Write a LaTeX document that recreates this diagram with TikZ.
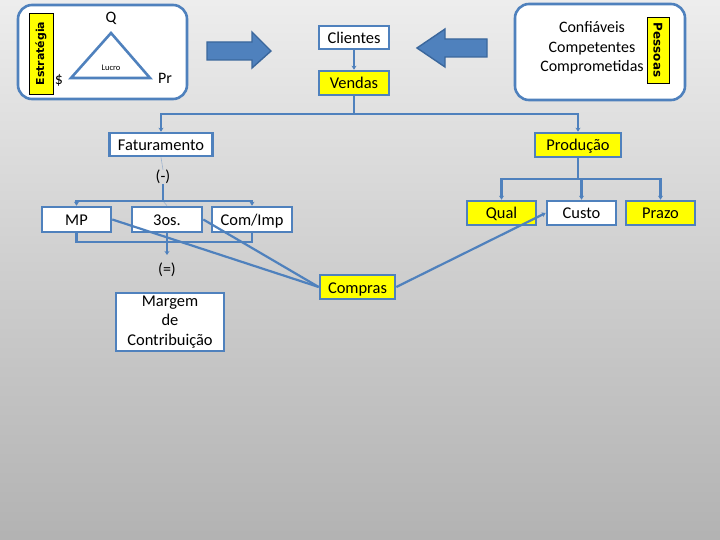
\documentclass[tikz,border=0pt]{standalone}
\usepackage{fontspec}
\setmainfont{Carlito}
\newfontfamily\faixafont{DejaVu Sans}
\usetikzlibrary{arrows.meta}
\definecolor{azul}{HTML}{4F81BD}
\definecolor{azulesc}{HTML}{3B679C}
\definecolor{amarelo}{HTML}{FFFF00}
\definecolor{fio}{HTML}{9DB3CE}

\begin{document}
\begin{tikzpicture}[x = 1bp, y = -1bp,
                        caixa/.style = {draw = azul, line width = 2.6bp, inner sep = 0pt,
                                        font = \fontsize{16.5}{19.5}\selectfont},
                        umalinha/.style = {caixa, text height = 12bp, text depth = 0bp},
                        branca/.style = {umalinha, fill = white},
                        amarela/.style = {umalinha, fill = amarelo},
                        faixa/.style = {draw = black, line width = 0.6bp, fill = amarelo, inner sep = 0pt,
                                        font = \faixafont\bfseries\fontsize{11}{12}\selectfont},
                        painel/.style = {draw = azul, line width = 2.6bp, fill = white, rounded corners = 14bp},
                        rotulo/.style = {inner sep = 0pt, font = \fontsize{16}{17}\selectfont},
                        liga/.style = {draw = azul, line width = 2.2bp},
                        seta/.style = {liga, -{Stealth[length = 4bp, width = 5bp]}},
                        bloco/.style = {fill = azul, draw = azulesc, line width = 1.4bp, line join = miter}]
      \useasboundingbox (0, 0) rectangle (720, 540);
      \shade [top color = black!7, bottom color = black!30, middle color = black!19] (0, 0) rectangle (720, 540);

      % painel da estrategia
      \draw [painel] (18, 5) rectangle (187, 99);
      \node [faixa, rotate = 90, minimum width = 81bp, minimum height = 24bp] (estrategia) at (41, 53.5){Estratégia};
      \draw [azul, line width = 2.6bp, line join = miter] (111, 33) -- (71, 78) -- (150, 78) -- cycle;
      \node [rotulo] (q) at (111, 18){Q};
      \node [rotulo] (cifrao) at (59, 80){\$};
      \node [rotulo] (pr) at (165, 78){Pr};
      \node [inner sep = 0pt, font = \fontsize{8.5}{9}\selectfont] (lucro) at (111, 68){Lucro};

      % painel das pessoas
      \draw [painel] (515, 4) rectangle (685, 100);
      \node [faixa, rotate = -90, minimum width = 66bp, minimum height = 22bp,
             font = \faixafont\bfseries\fontsize{12}{13}\selectfont] (pessoas) at (658, 50){Pessoas};
      \node [rotulo, align = center, font = \fontsize{16}{19.5}\selectfont] (qualidades) at (592, 48)
            {Confiáveis\\Competentes\\Comprometidas};

      % setas largas
      \draw [bloco] (207, 42) -- (252, 42) -- (252, 32) -- (271, 51) -- (252, 68) -- (252, 60) -- (207, 60) -- cycle;
      \draw [bloco] (487, 39) -- (445, 39) -- (445, 29) -- (417, 48) -- (445, 67) -- (445, 57) -- (487, 57) -- cycle;

      % caixas
      \node [branca, minimum width = 70bp, minimum height = 23bp] (clientes) at (354, 37.5){Clientes};
      \node [amarela, minimum width = 70bp, minimum height = 24bp] (vendas) at (354, 83){Vendas};
      \node [branca, minimum width = 103bp, minimum height = 23bp] (faturamento) at (161, 144.5){Faturamento};
      \node [amarela, minimum width = 86bp, minimum height = 24bp] (producao) at (578, 145){Produção};
      \node [rotulo] (menos) at (163, 177){(-)};
      \node [branca, minimum width = 69bp, minimum height = 25bp] (mp) at (76.5, 219.5){MP};
      \node [branca, minimum width = 70bp, minimum height = 25bp] (terceiros) at (167, 219.5){3os.};
      \node [branca, minimum width = 80bp, minimum height = 25bp] (comimp) at (252, 219.5){Com/Imp};
      \node [rotulo] (igual) at (167, 270){(=)};
      \node [caixa, fill = white, minimum width = 108bp, minimum height = 58bp, align = center]
            (margem) at (170, 322){Margem\\de\\Contribuição};
      \node [amarela, minimum width = 75bp, minimum height = 24bp] (compras) at (357.5, 287){Compras};
      \node [amarela, minimum width = 69bp, minimum height = 24bp] (qual) at (501.5, 213){Qual};
      \node [branca, minimum width = 69bp, minimum height = 24bp] (custo) at (581.5, 213){Custo};
      \node [amarela, minimum width = 69bp, minimum height = 24bp] (prazo) at (660.5, 213){Prazo};

      \coordinate (vjunta) at (354, 114);
      \coordinate (pjunta) at (578, 179);
      \coordinate (ctopo) at (163, 201);
      \coordinate (cbase) at (167, 242);
      \coordinate (cigual) at (167, 255);

      % ligacoes
      \draw [seta] (clientes) -- (vendas);
      \draw [liga] (vendas) -- (vjunta);
      \draw [seta] (vjunta) -| (faturamento.north);
      \draw [seta] (vjunta) -| (producao.north);

      \draw [fio, line width = 0.6bp] (faturamento.south) -- (menos.north);
      \draw [fio, line width = 0.6bp] (ctopo) -- (terceiros.north);
      \draw [liga] (menos.south) -- (ctopo);
      \draw [seta] (ctopo) -| (mp.north);
      \draw [seta] (ctopo) -| (comimp.north);

      \draw [liga] (mp.south) |- (cbase) -| (comimp.south);
      \draw [seta] (terceiros.south) -- (cigual);

      \draw [liga] (producao) -- (pjunta);
      \draw [seta] (pjunta) -| (qual.north);
      \draw [seta] (pjunta) -| (custo.north);
      \draw [seta] (pjunta) -| (prazo.north);

      \draw [liga] (mp.east) -- (compras.west);
      \draw [liga] (terceiros.east) -- (compras.west);
      \draw [seta] (compras.east) -- (custo.west);

      \end{tikzpicture}
\end{document}
